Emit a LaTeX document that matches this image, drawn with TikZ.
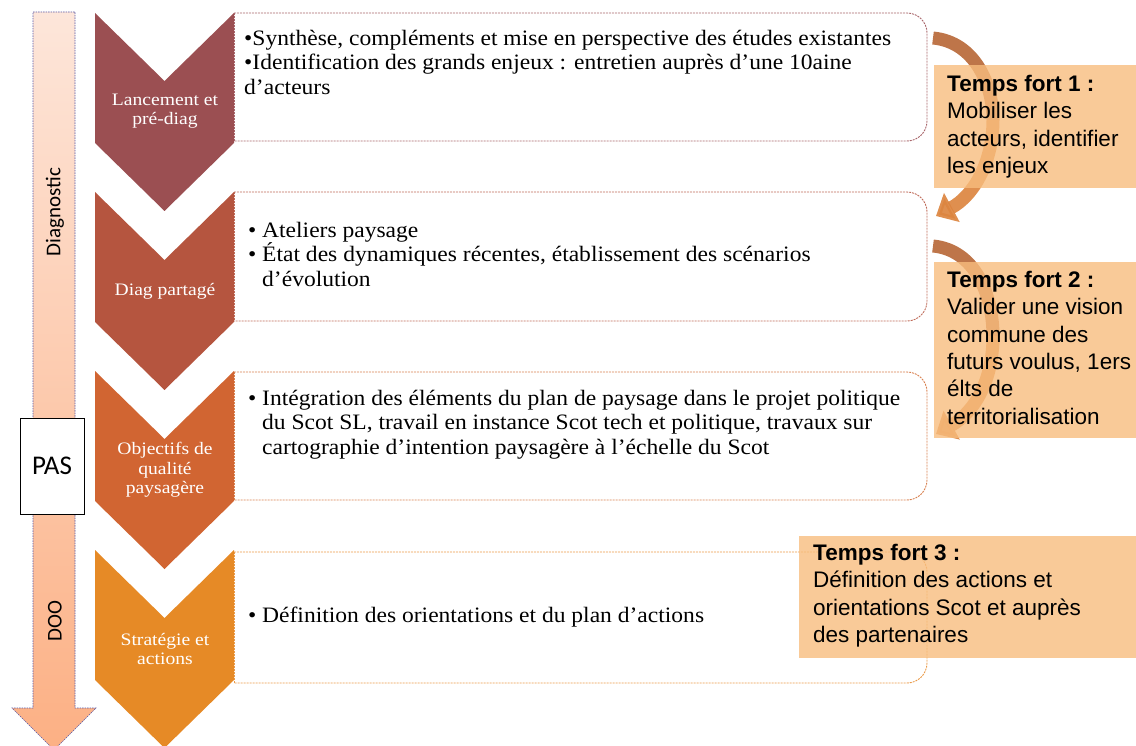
\documentclass[tikz,border=0pt]{standalone}
\usepackage{fontspec}
\setmainfont{Liberation Serif}[FakeStretch=1.07]
\newfontfamily\chevf{Liberation Serif}[FakeStretch=1.12]
\newfontfamily\arialf{Liberation Sans}
\newfontfamily\calibf{Carlito}
\usetikzlibrary{arrows.meta}
\definecolor{chevA}{HTML}{9B4F52}
\definecolor{chevB}{HTML}{B5553F}
\definecolor{chevC}{HTML}{D16532}
\definecolor{chevD}{HTML}{E68A26}
\definecolor{bordA}{HTML}{A8656A}
\definecolor{bordB}{HTML}{BE6A58}
\definecolor{bordC}{HTML}{D8804F}
\definecolor{bordD}{HTML}{EA9A48}
\definecolor{arrtop}{HTML}{FDE6DA}
\definecolor{arrbot}{HTML}{FCB084}
\definecolor{peach}{HTML}{F8BD7E}
\definecolor{curvA}{HTML}{B8693A}
\definecolor{curvB}{HTML}{DC8540}
\tikzset{
  boxline/.style={dash pattern=on 2pt off 1pt, line width=0.9pt},
  chevtext/.style={text=white, align=center, font=\chevf\fontsize{17.5}{19.5}\selectfont},
  boxtext/.style={anchor=north west, align=left, inner sep=0pt, font=\fontsize{22}{24.5}\selectfont},
  tftext/.style={anchor=north west, align=left, inner sep=0pt, font=\arialf\fontsize{22.5}{27.3}\selectfont},
  tfbox/.style={fill=peach, fill opacity=0.8, draw=none},
  curvarrow/.style={line width=13pt, opacity=0.92}
}
\newcommand{\bul}{\makebox[14pt][l]{\textbullet}}
\begin{document}
\begin{tikzpicture}[x=1pt,y=-1pt]
\useasboundingbox (0,0) rectangle (1136,746);
% left arrow
\shadedraw[top color=arrtop, bottom color=arrbot, draw=gray!70!blue, dash pattern=on 1.5pt off 1pt, line width=0.6pt]
  (33,12) -- (75,12) -- (75,708) -- (96,708) -- (54,750) -- (12,708) -- (33,708) -- cycle;
\node[rotate=90, font=\calibf\fontsize{21}{24}\selectfont] (diag) at (55,212) {Diagnostic};
\node[rotate=90, font=\calibf\fontsize{21}{24}\selectfont] (doo) at (55,621) {DOO};
\node[draw=black, fill=white, line width=1pt, minimum width=64pt, minimum height=96pt, inner sep=0pt, font=\calibf\fontsize{27}{30}\selectfont] (pas) at (52,466) {PAS};
% chevrons
\foreach \c/\t in {chevA/13, chevB/192, chevC/371, chevD/550}{
  \fill[\c] (95,\t) -- (164.5,\t+68) -- (234,\t) -- (234,\t+130) -- (164.5,\t+198) -- (95,\t+130) -- cycle;
}
\node[chevtext] (c1) at (165,111) {Lancement et\\pré-diag};
\node[chevtext] (c2) at (165,291) {Diag partagé};
\node[chevtext] (c3) at (165,470) {Objectifs de\\qualité\\paysagère};
\node[chevtext] (c4) at (165,649) {Stratégie et\\actions};
% text boxes
\foreach \c/\t/\b in {bordA/13/141, bordB/192/321, bordC/372/500, bordD/552/683}{
  \draw[boxline, draw=\c, rounded corners=20pt] (234,\t) -- (927,\t) -- (927,\b) -- (234,\b);
  \draw[boxline, draw=\c] (234,\t) -- (234,\b);
}
\node[boxtext] (t1) at (244,30) {\textbullet Synthèse, compléments et mise en perspective des études existantes\\\textbullet Identification des grands enjeux : entretien auprès d’une 10aine\\d’acteurs};
\node[boxtext] (t2) at (248,222) {\bul Ateliers paysage\\\bul État des dynamiques récentes, établissement des scénarios\\\hspace*{14pt}d’évolution};
\node[boxtext] (t3) at (248,390) {\bul Intégration des éléments du plan de paysage dans le projet politique\\\hspace*{14pt}du Scot SL, travail en instance Scot tech et politique, travaux sur\\\hspace*{14pt}cartographie d’intention paysagère à l’échelle du Scot};
\node[boxtext] (t4) at (248,607) {\bul Définition des orientations et du plan d’actions};
% curved arrows
\coordinate (a1s) at (933,38);
\coordinate (a1m) at (993,120);
\coordinate (a1e) at (936,216);
\coordinate (a2s) at (933,246);
\coordinate (a2m) at (993,336);
\coordinate (a2e) at (936,434);
\draw[curvarrow, draw=curvA] (a1s) .. controls (975,42) and (993,85) .. (a1m);
\draw[curvarrow, draw=curvB, -{Triangle[length=18pt,width=32pt]}] (a1m) .. controls (993,160) and (975,195) .. (a1e);
\draw[curvarrow, draw=curvA] (a2s) .. controls (975,250) and (993,295) .. (a2m);
\draw[curvarrow, draw=curvB, -{Triangle[length=18pt,width=32pt]}] (a2m) .. controls (993,380) and (975,412) .. (a2e);
% temps fort boxes
\fill[tfbox] (934,65) rectangle (1136,188);
\fill[tfbox] (934,262) rectangle (1136,438);
\fill[tfbox] (799,536) rectangle (1136,658);
\node[tftext] (f1) at (947,75) {\textbf{Temps fort 1 :}\\Mobiliser les\\acteurs, identifier\\les enjeux};
\node[tftext] (f2) at (947,271) {\textbf{Temps fort 2 :}\\Valider une vision\\commune des\\futurs voulus, 1ers\\élts de\\territorialisation};
\node[tftext] (f3) at (813,544) {\textbf{Temps fort 3 :}\\Définition des actions et\\orientations Scot et auprès\\des partenaires};
\end{tikzpicture}
\end{document}
